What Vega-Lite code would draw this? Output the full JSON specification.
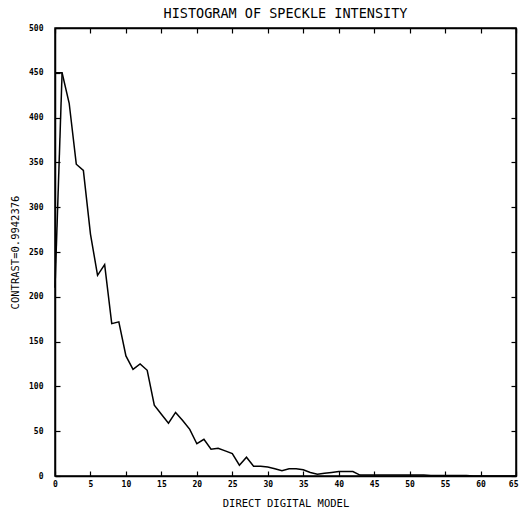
{
  "$schema": "https://vega.github.io/schema/vega-lite/v6.json",
  "autosize": {"type": "none"},
  "padding": {"left": 55, "top": 28, "right": 3, "bottom": 37},
  "width": 461,
  "height": 448,
  "background": "white",
  "title": {
    "text": "HISTOGRAM OF SPECKLE INTENSITY",
    "font": "DejaVu Sans Mono",
    "fontSize": 13.5,
    "fontWeight": "normal",
    "color": "black",
    "anchor": "middle",
    "offset": 4
  },
  "config": {
    "view": {"stroke": "black", "strokeWidth": 1.5},
    "axis": {
      "grid": false,
      "domainColor": "black",
      "domainWidth": 1.5,
      "tickColor": "black",
      "tickWidth": 1.2,
      "labelColor": "black",
      "labelFont": "DejaVu Sans Mono",
      "labelFontWeight": "bold",
      "labelFontSize": 8,
      "labelFlush": false,
      "titleFont": "DejaVu Sans Mono",
      "titleFontWeight": "normal",
      "titleFontSize": 10.5,
      "titleColor": "black"
    }
  },
  "data": {
    "values": [
      {"trace": "main", "x": 0, "y": 450},
      {"trace": "main", "x": 1, "y": 450},
      {"trace": "main", "x": 2, "y": 416},
      {"trace": "main", "x": 3, "y": 348},
      {"trace": "main", "x": 4, "y": 341},
      {"trace": "main", "x": 5, "y": 270},
      {"trace": "main", "x": 6, "y": 224},
      {"trace": "main", "x": 7, "y": 236},
      {"trace": "main", "x": 8, "y": 170},
      {"trace": "main", "x": 9, "y": 172},
      {"trace": "main", "x": 10, "y": 134},
      {"trace": "main", "x": 11, "y": 119},
      {"trace": "main", "x": 12, "y": 125},
      {"trace": "main", "x": 13, "y": 118},
      {"trace": "main", "x": 14, "y": 79},
      {"trace": "main", "x": 15, "y": 69},
      {"trace": "main", "x": 16, "y": 59},
      {"trace": "main", "x": 17, "y": 71},
      {"trace": "main", "x": 18, "y": 62},
      {"trace": "main", "x": 19, "y": 52},
      {"trace": "main", "x": 20, "y": 36},
      {"trace": "main", "x": 21, "y": 41},
      {"trace": "main", "x": 22, "y": 30},
      {"trace": "main", "x": 23, "y": 31},
      {"trace": "main", "x": 24, "y": 28},
      {"trace": "main", "x": 25, "y": 25},
      {"trace": "main", "x": 26, "y": 12},
      {"trace": "main", "x": 27, "y": 21},
      {"trace": "main", "x": 28, "y": 11},
      {"trace": "main", "x": 29, "y": 11},
      {"trace": "main", "x": 30, "y": 10},
      {"trace": "main", "x": 31, "y": 8},
      {"trace": "main", "x": 32, "y": 6},
      {"trace": "main", "x": 33, "y": 8},
      {"trace": "main", "x": 34, "y": 8},
      {"trace": "main", "x": 35, "y": 7},
      {"trace": "main", "x": 36, "y": 4},
      {"trace": "main", "x": 37, "y": 2},
      {"trace": "main", "x": 38, "y": 3},
      {"trace": "main", "x": 39, "y": 4},
      {"trace": "main", "x": 40, "y": 5},
      {"trace": "main", "x": 41, "y": 5},
      {"trace": "main", "x": 42, "y": 5},
      {"trace": "main", "x": 43, "y": 1},
      {"trace": "main", "x": 44, "y": 1},
      {"trace": "main", "x": 45, "y": 1},
      {"trace": "main", "x": 46, "y": 1},
      {"trace": "main", "x": 47, "y": 1},
      {"trace": "main", "x": 48, "y": 1},
      {"trace": "main", "x": 49, "y": 1},
      {"trace": "main", "x": 50, "y": 1},
      {"trace": "main", "x": 51, "y": 1},
      {"trace": "main", "x": 52, "y": 1},
      {"trace": "main", "x": 53, "y": 0.5},
      {"trace": "main", "x": 54, "y": 0.5},
      {"trace": "main", "x": 55, "y": 0.5},
      {"trace": "main", "x": 56, "y": 0.5},
      {"trace": "main", "x": 57, "y": 0.5},
      {"trace": "main", "x": 58, "y": 0.5},
      {"trace": "main", "x": 59, "y": 0},
      {"trace": "main", "x": 60, "y": 0},
      {"trace": "main", "x": 61, "y": 0},
      {"trace": "main", "x": 62, "y": 0},
      {"trace": "main", "x": 63, "y": 0},
      {"trace": "main", "x": 64, "y": 0},
      {"trace": "main", "x": 65, "y": 0},
      {"trace": "rise", "x": 0, "y": 210},
      {"trace": "rise", "x": 1, "y": 450}
    ]
  },
  "layer": [
    {
      "transform": [{"filter": "datum.trace === 'main'"}],
      "mark": {"type": "line", "color": "black", "strokeWidth": 1.5},
      "encoding": {
        "x": {
          "field": "x", "type": "quantitative",
          "scale": {"domain": [0, 65], "nice": false, "zero": false},
          "axis": {
            "orient": "bottom",
            "values": [0, 5, 10, 15, 20, 25, 30, 35, 40, 45, 50, 55, 60, 65],
            "tickSize": -5,
            "labelPadding": 9,
            "labelAlign": {"condition": {"test": "datum.value >= 65", "value": "right"}, "value": "center"},
            "labelOffset": {"condition": {"test": "datum.value >= 65", "value": 2}, "value": 0},
            "title": "DIRECT DIGITAL MODEL",
            "titlePadding": 10
          }
        },
        "y": {
          "field": "y", "type": "quantitative",
          "scale": {"domain": [0, 500], "nice": false},
          "axis": {
            "orient": "left",
            "values": [0, 50, 100, 150, 200, 250, 300, 350, 400, 450, 500],
            "tickSize": -5,
            "labelPadding": 17,
            "title": "CONTRAST=0.9942376",
            "titlePadding": 8
          }
        }
      }
    },
    {
      "transform": [{"filter": "datum.trace === 'rise'"}],
      "mark": {"type": "line", "color": "black", "strokeWidth": 1.5},
      "encoding": {
        "x": {
          "field": "x", "type": "quantitative",
          "axis": {
            "orient": "top",
            "values": [0, 5, 10, 15, 20, 25, 30, 35, 40, 45, 50, 55, 60, 65],
            "tickSize": -5,
            "labels": false,
            "title": null
          }
        },
        "y": {
          "field": "y", "type": "quantitative",
          "axis": {
            "orient": "right",
            "values": [0, 50, 100, 150, 200, 250, 300, 350, 400, 450, 500],
            "tickSize": -5,
            "labels": false,
            "title": null
          }
        }
      }
    }
  ],
  "resolve": {"axis": {"x": "independent", "y": "independent"}}
}
